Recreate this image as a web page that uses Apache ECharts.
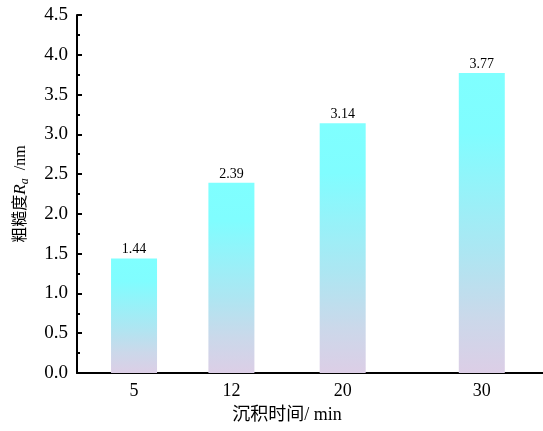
<!DOCTYPE html>
<html>
<head>
<meta charset="utf-8">
<script src="https://cdn.jsdelivr.net/npm/echarts@6/dist/echarts.min.js"></script>
<style>
  html, body { margin: 0; padding: 0; background: #fff; }
  #main { width: 543px; height: 431px; }
</style>
</head>
<body>
<div id="main"></div>
<script>
const times = [5, 12, 20, 30];
const roughness = [1.44, 2.39, 3.14, 3.77];
const yTicks = { min: 0, max: 4.5, interval: 0.5 };

const serif = '"Liberation Serif", "Times New Roman", "Noto Sans CJK SC", serif';

const myChart = echarts.init(document.getElementById('main'));

const barColor = new echarts.graphic.LinearGradient(0, 0, 0, 1, [
    {offset: 0, color: '#7fffff'},
    {offset: 0.2, color: '#80fdff'},
    {offset: 0.6, color: '#ade6f2'},
    {offset: 0.82, color: '#cbd8ea'},
    {offset: 1, color: '#dccee6'}
]);

myChart.setOption({
    animation: false,
    grid: {left: 77, right: 0, top: 15, bottom: 58},
    xAxis: {
        type: 'value',
        min: 0.9,
        max: 34.4,
        name: '沉积时间/ min',
        nameLocation: 'middle',
        nameGap: 33,
        nameTextStyle: {fontFamily: serif, fontSize: 18, color: '#000', padding: [0, 46, 0, 0]},
        axisLine: {show: true, onZero: false, lineStyle: {color: '#000', width: 2}},
        axisTick: {show: false},
        splitLine: {show: false},
        axisLabel: {
            customValues: times,
            fontFamily: serif,
            fontSize: 18,
            color: '#000',
            margin: 9
        }
    },
    yAxis: {
        type: 'value',
        min: yTicks.min,
        max: yTicks.max,
        interval: yTicks.interval,
        name: '{n|粗糙度}{r|R}{s|a}{n|  /nm}',
        nameLocation: 'middle',
        nameGap: 46,
        nameTextStyle: {
            rich: {
                n: {fontFamily: serif, fontSize: 16, color: '#000'},
                r: {fontFamily: serif, fontSize: 17, fontStyle: 'italic', color: '#000'},
                s: {fontFamily: serif, fontSize: 12, fontStyle: 'italic', color: '#000', verticalAlign: 'bottom', padding: [8, 0, 0, 0]}
            }
        },
        axisLine: {show: true, lineStyle: {color: '#000', width: 2}},
        axisTick: {show: true, inside: true, length: 5, lineStyle: {color: '#000', width: 2}},
        minorTick: {show: true, splitNumber: 2, length: 3, lineStyle: {color: '#000', width: 2}},
        splitLine: {show: false},
        axisLabel: {
            fontFamily: serif,
            fontSize: 19,
            color: '#000',
            margin: 9,
            formatter: v => v.toFixed(1)
        }
    },
    series: [{
        type: 'bar',
        barWidth: 46,
        data: times.map((t, i) => [t, roughness[i]]),
        itemStyle: {color: barColor},
        label: {
            show: true,
            position: 'top',
            distance: 2,
            fontFamily: serif,
            fontSize: 14,
            color: '#000',
            formatter: p => p.value[1].toFixed(2)
        }
    }]
});
</script>
</body>
</html>
